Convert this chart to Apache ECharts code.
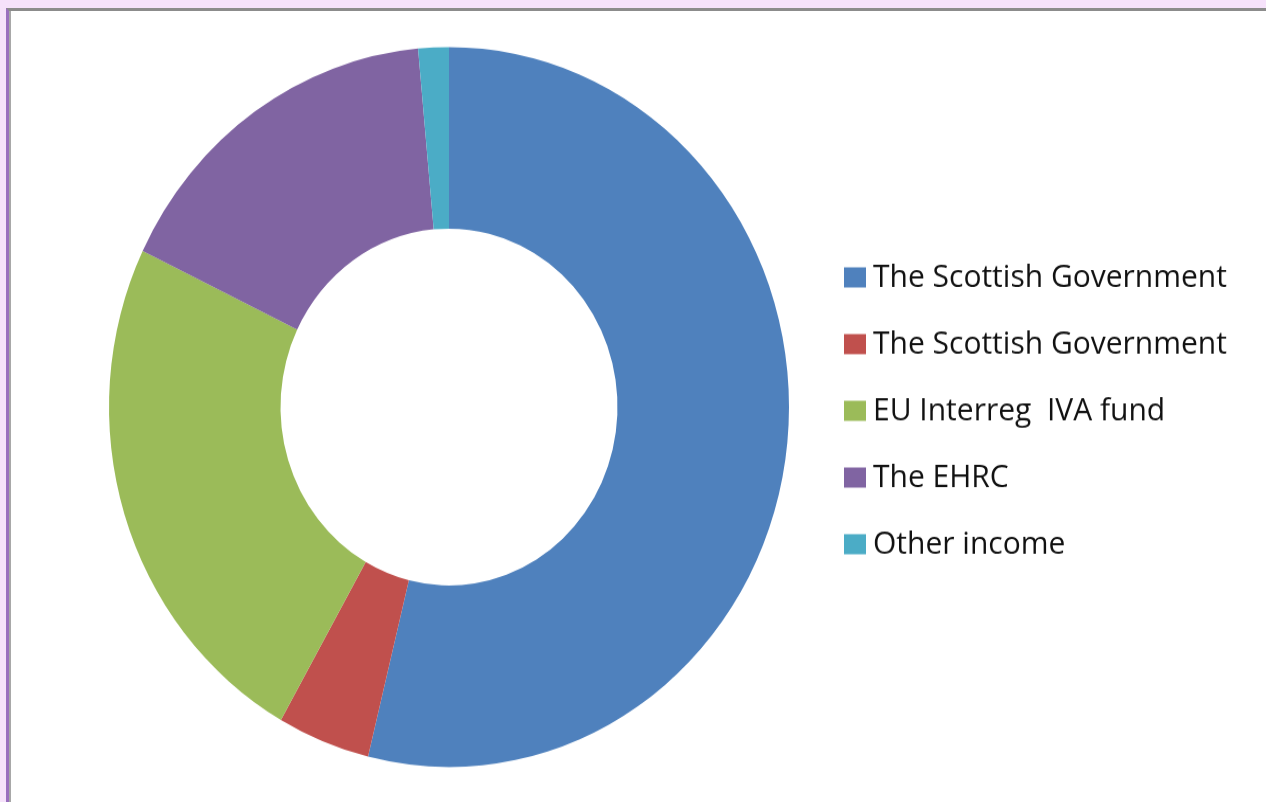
<!DOCTYPE html>
<html>
<head>
<meta charset="utf-8">
<script src="https://cdn.jsdelivr.net/npm/echarts@6/dist/echarts.min.js"></script>
<style>
  html, body { margin: 0; padding: 0; width: 1266px; height: 802px; overflow: hidden; background: #f6e2fb; }
  #frame {
    position: absolute; left: 6px; top: 8px; width: 1260px; height: 794px;
    background: #ffffff; border-top: 3px solid #8c8c8c; border-left: 3px solid #9a6fbf;
    box-sizing: border-box;
  }
  #frame:before {
    content: ''; position: absolute; left: 0; top: 0; width: 2px; height: 100%; background: #a8a8a8;
  }
  /* the source picture is stretched a little vertically */
  #chart {
    position: absolute; left: 0; top: 0; width: 1266px; height: 757.5px;
    transform: scaleY(1.0588); transform-origin: 0 0;
  }
</style>
</head>
<body>
<div id="frame"></div>
<div id="chart"></div>
<script>
  // 数据
  let keys = ['sg1', 'sg2', 'eu', 'ehrc', 'other'];
  let labels = ['The Scottish Government', 'The Scottish Government', 'EU Interreg  IVA fund', 'The EHRC', 'Other income'];
  let values = [53.8, 4.4, 23.9, 16.4, 1.45];
  let colors = ['#4f81bd', '#c0504d', '#9bbb59', '#8064a2', '#4bacc6'];

  let chart = echarts.init(document.getElementById('chart'));
  let pieData = [];
  keys.forEach((k, i) => {
    pieData.push({ name: k, value: values[i], itemStyle: { color: colors[i] } });
  });

  let option = {
    animation: false,
    legend: {
      orient: 'vertical',
      left: 844,
      top: 247,
      padding: 0,
      itemWidth: 22,
      itemHeight: 19,
      itemGap: 33,
      icon: 'rect',
      data: keys,
      formatter: name => labels[keys.indexOf(name)],
      textStyle: {
        fontFamily: 'Open Sans',
        fontSize: 30,
        lineHeight: 30,
        padding: [0, 0, 0, 2],
        color: '#111'
      }
    },
    series: [{
      type: 'pie',
      center: [449, 384.4],
      radius: [168.5, 340],
      startAngle: 90,
      clockwise: true,
      label: { show: false },
      labelLine: { show: false },
      emphasis: { disabled: true },
      data: pieData
    }]
  };
  chart.setOption(option);
</script>
</body>
</html>
